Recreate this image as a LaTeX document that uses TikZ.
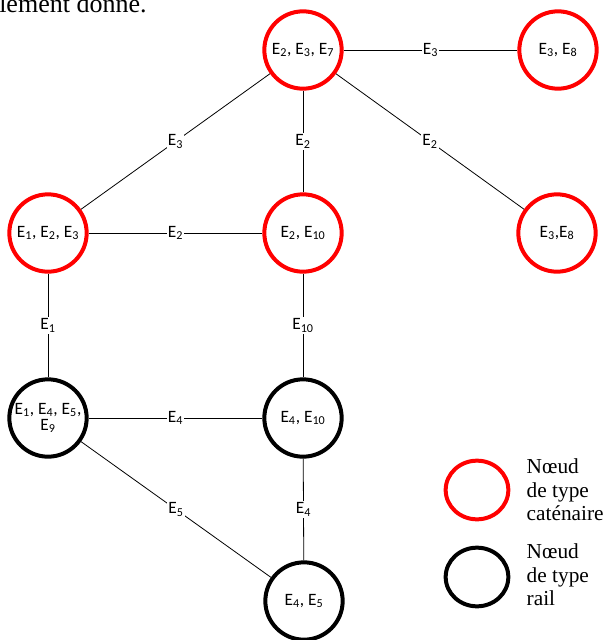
\documentclass[tikz,border=0pt]{standalone}
\usepackage{fontspec}
\setmainfont{Liberation Serif}
\newfontfamily\calib{Carlito}
\usepackage{xcolor}
\usepackage{tikz}
\usetikzlibrary{positioning,shapes.geometric}

\newcommand{\E}[1]{E\textsubscript{#1}}

\begin{document}
\begin{tikzpicture}[x=0.75pt, y=-0.75pt,
    catenaire/.style={draw=red, line width=3pt, circle, minimum size=58pt, inner sep=0pt, align=center, font=\calib\fontsize{13}{14}\selectfont},
    rail/.style={catenaire, draw=black},
    lien/.style={draw=black, line width=0.6pt},
    etiq/.style={fill=white, inner sep=1pt, font=\calib\fontsize{13}{14}\selectfont},
    legende/.style={anchor=west, align=left, font=\fontsize{16}{17.5}\selectfont}]
\useasboundingbox (0,0) rectangle (604,640);

\node[anchor=base west, inner sep=0pt, font=\fontsize{19.5}{21}\selectfont] (haut) at (-1,12) {lement donné.};

\node[catenaire] (n237) at (303,50) {\E{2}, \E{3}, \E{7}};
\node[catenaire] (n38a) at (558,50) {\E{3}, \E{8}};
\node[catenaire] (n123) at (48,233) {\E{1}, \E{2}, \E{3}};
\node[catenaire] (n210) at (303,233) {\E{2}, \E{10}};
\node[catenaire] (n38b) at (557,233) {\E{3},\E{8}};
\node[rail] (n1459) at (48,418) {\E{1}, \E{4}, \E{5},\\[-2pt] \E{9}};
\node[rail] (n410) at (303,418) {\E{4}, \E{10}};
\node[rail] (n45) at (304,601) {\E{4}, \E{5}};

\draw[lien] (n237) -- (n38a) node[midway, etiq] {\E{3}};
\draw[lien] (n237) -- (n123) node[midway, etiq] {\E{3}};
\draw[lien] (n237) -- (n210) node[midway, etiq] {\E{2}};
\draw[lien] (n237) -- (n38b) node[midway, etiq] {\E{2}};
\draw[lien] (n123) -- (n210) node[midway, etiq] {\E{2}};
\draw[lien] (n123) -- (n1459) node[midway, etiq] {\E{1}};
\draw[lien] (n210) -- (n410) node[midway, etiq] {\E{10}};
\draw[lien] (n1459) -- (n410) node[midway, etiq] {\E{4}};
\draw[lien] (n1459) -- (n45) node[midway, etiq] {\E{5}};
\draw[lien] (n410) -- (n45) node[midway, etiq] {\E{4}};

% legende
\node[draw=red, line width=3pt, ellipse, minimum width=47pt, minimum height=44pt, inner sep=0pt] (legcat) at (477,490) {};
\node[legende] (legcattxt) at (522,490) {Nœud\\de type\\caténaire};
\node[draw=black, line width=3pt, ellipse, minimum width=47pt, minimum height=44pt, inner sep=0pt] (legrail) at (477,577) {};
\node[legende] (legrailtxt) at (522,575) {Nœud\\de type\\rail};
\end{tikzpicture}
\end{document}
